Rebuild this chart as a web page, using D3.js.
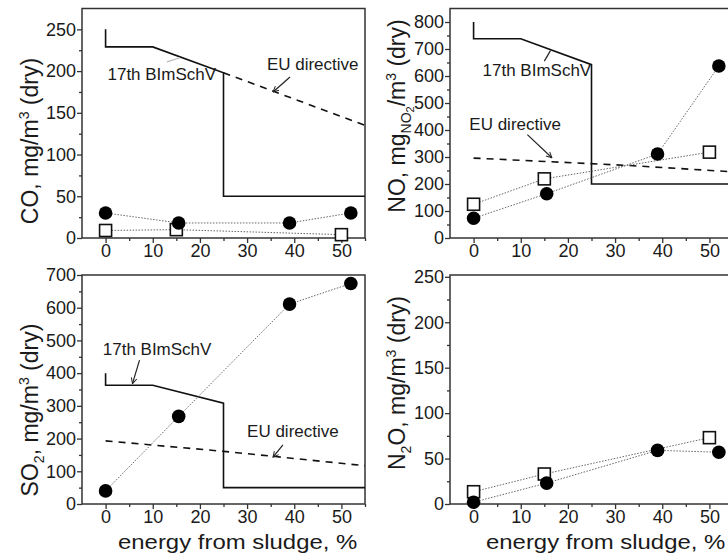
<!DOCTYPE html>
<html><head><meta charset="utf-8">
<script src="https://cdn.jsdelivr.net/npm/d3@7"></script>
<style>
html,body{margin:0;padding:0;background:#fff;}
svg{display:block;font-family:"Liberation Sans",Arial,sans-serif;}
</style></head>
<body><svg id="chart" width="728" height="559"></svg>
<script>
// ---------- data ----------
const xTicks = [0, 10, 20, 30, 40, 50];
const sludgeFilledX = [0, 15.5, 39, 52];
const sludgeOpenX = [0, 15, 50];

const coFilled = [30, 18, 18, 30];
const coOpen = [9, 10, 4];
const noFilled = [73, 164, 311, 637];
const noOpen = [125, 219, 318];
const so2Filled = [40, 268, 611, 674];
const n2oFilled = [2, 23, 59, 57];
const n2oOpen = [13.5, 33, 73];

const coTicks = [0, 50, 100, 150, 200, 250];
const noTicks = [0, 100, 200, 300, 400, 500, 600, 700, 800];
const so2Ticks = [0, 100, 200, 300, 400, 500, 600, 700];
const n2oTicks = [0, 50, 100, 150, 200, 250];

// limit lines (17th BImSchV solid, EU directive dashed)
const coLimit17 = [[0, 250], [0, 229], [10, 229], [25, 198], [25, 50], [55, 50]];
const coLimitEU = [[25, 198], [55, 135]];
const noLimit17 = [[0, 800], [0, 738], [10, 738], [25, 642], [25, 200], [55, 200]];
const noLimitEU = [[0, 296], [18, 281], [32.5, 269], [46.7, 254], [55, 245]];
const so2Limit17 = [[0, 400], [0, 363], [10, 363], [25, 308], [25, 50], [55, 50]];
const so2LimitEU = [[0, 193], [25, 161], [36, 145], [55, 117]];

// ---------- layout ----------
const W = 728, H = 559;
const svg = d3.select("#chart");
svg.append("rect").attr("width", W).attr("height", H).attr("fill", "#fff");

const defs = svg.append("defs");
defs.append("marker").attr("id", "arr").attr("viewBox", "0 0 10 10")
  .attr("refX", 9).attr("refY", 5).attr("markerWidth", 7).attr("markerHeight", 7)
  .attr("orient", "auto-start-reverse").attr("markerUnits", "userSpaceOnUse")
  .append("path").attr("d", "M1,1 L9,5 L1,9").attr("fill", "none").attr("stroke", "#222").attr("stroke-width", 1.4);

const panels = [
  {key: "CO", x0: 82, x1: 365, yTop: 8.5, yBot: 238, yMax: 275, ticks: coTicks, minorStep: 25,
   filled: coFilled, open: coOpen, lim17: coLimit17, limEU: coLimitEU,
   labelCenter: 141, labelX: 38, showXTitle: false,
   notes: [
     {text: "17th BImSchV", x: 0.4, y: 189},
     {text: "EU directive", x: 34.2, y: 201}
   ],
   arrows: [
     {from: [39.1, 193], to: [35.5, 175], color: "#222", head: true},
     {from: [13, 211], to: [15.8, 216], color: "#bbb", head: false}
   ]},
  {key: "NO", x0: 450, x1: 733, yTop: 8.5, yBot: 238, yMax: 850, ticks: noTicks, minorStep: 50,
   filled: noFilled, open: noOpen, lim17: noLimit17, limEU: noLimitEU,
   labelCenter: 116, labelX: 405, showXTitle: false,
   notes: [
     {text: "17th BImSchV", x: 1.9, y: 600},
     {text: "EU directive", x: -0.9, y: 401}
   ],
   arrows: [
     {from: [11.4, 383], to: [16.6, 297], color: "#222", head: true},
     {from: [15.0, 655], to: [16.3, 694], color: "#222", head: false}
   ]},
  {key: "SO2", x0: 82, x1: 365, yTop: 275, yBot: 504, yMax: 700, ticks: so2Ticks, minorStep: 50,
   filled: so2Filled, open: null, lim17: so2Limit17, limEU: so2LimitEU,
   labelCenter: 410, labelX: 38, showXTitle: true,
   notes: [
     {text: "17th BImSchV", x: -0.6, y: 455},
     {text: "EU directive", x: 30, y: 205}
   ],
   arrows: [
     {from: [7.2, 440], to: [5.7, 368], color: "#222", head: true},
     {from: [37.6, 181], to: [35.5, 143], color: "#222", head: true}
   ]},
  {key: "N2O", x0: 450, x1: 733, yTop: 275, yBot: 504, yMax: 252, ticks: n2oTicks, minorStep: 25,
   filled: n2oFilled, open: n2oOpen, lim17: null, limEU: null,
   labelCenter: 383, labelX: 405, showXTitle: true, notes: [], arrows: []}
];

const labelDefs = {
  CO: [["CO, mg/m", 0], ["3", "sup"], [" (dry)", 0]],
  NO: [["NO, mg", 0], ["NO", "sub"], ["2", "sub2"], ["/m", "back"], ["3", "sup"], [" (dry)", 0]],
  SO2: [["SO", 0], ["2", "sub"], [", mg/m", "back"], ["3", "sup"], [" (dry)", 0]],
  N2O: [["N", 0], ["2", "sub"], ["O, mg/m", "back"], ["3", "sup"], [" (dry)", 0]]
};

panels.forEach(p => {
  const x = d3.scaleLinear().domain([-5, 55]).range([p.x0, p.x1]);
  const y = d3.scaleLinear().domain([0, p.yMax]).range([p.yBot, p.yTop]);
  const g = svg.append("g");

  // frame
  g.append("rect").attr("x", p.x0).attr("y", p.yTop)
    .attr("width", p.x1 - p.x0).attr("height", p.yBot - p.yTop)
    .attr("fill", "none").attr("stroke", "#333").attr("stroke-width", 1.5);

  // minor ticks
  const yMinor = d3.range(p.minorStep, p.yMax, p.minorStep * 2);
  g.append("g").attr("transform", `translate(${p.x0},0)`)
    .call(d3.axisLeft(y).tickValues(yMinor).tickSize(3).tickFormat(""))
    .call(a => a.select(".domain").remove())
    .selectAll("line").attr("stroke", "#333").attr("stroke-width", 1.3);
  g.append("g").attr("transform", `translate(0,${p.yBot})`)
    .call(d3.axisBottom(x).tickValues([5, 15, 25, 35, 45, 55]).tickSize(3).tickFormat(""))
    .call(a => a.select(".domain").remove())
    .selectAll("line").attr("stroke", "#333").attr("stroke-width", 1.3);

  // major axes
  const ya = g.append("g").attr("transform", `translate(${p.x0},0)`)
    .call(d3.axisLeft(y).tickValues(p.ticks).tickSize(5).tickPadding(1).tickSizeOuter(0));
  ya.select(".domain").remove();
  ya.selectAll("line").attr("stroke", "#333").attr("stroke-width", 1.3);
  ya.selectAll("text").attr("font-size", 18).attr("fill", "#1a1a1a")
    .attr("font-family", "Liberation Sans, Arial, sans-serif");

  const xa = g.append("g").attr("transform", `translate(0,${p.yBot})`)
    .call(d3.axisBottom(x).tickValues(xTicks).tickSize(5).tickPadding(1).tickSizeOuter(0));
  xa.select(".domain").remove();
  xa.selectAll("line").attr("stroke", "#333").attr("stroke-width", 1.3);
  xa.selectAll("text").attr("font-size", 18).attr("fill", "#1a1a1a")
    .attr("font-family", "Liberation Sans, Arial, sans-serif");

  const line = d3.line().x(d => x(d[0])).y(d => y(d[1]));

  // limit lines
  if (p.lim17) g.append("path").attr("d", line(p.lim17)).attr("fill", "none")
    .attr("stroke", "#111").attr("stroke-width", 1.6);
  if (p.limEU) g.append("path").attr("d", line(p.limEU)).attr("fill", "none")
    .attr("stroke", "#111").attr("stroke-width", 1.6).attr("stroke-dasharray", "7,6");

  // annotations
  p.notes.forEach(n => {
    g.append("text").attr("x", x(n.x)).attr("y", y(n.y)).text(n.text)
      .attr("font-size", 17).attr("fill", "#1a1a1a");
  });
  p.arrows.forEach(a => {
    const l = g.append("line").attr("x1", x(a.from[0])).attr("y1", y(a.from[1]))
      .attr("x2", x(a.to[0])).attr("y2", y(a.to[1]))
      .attr("stroke", a.color).attr("stroke-width", 1.2);
    if (a.head) l.attr("marker-end", "url(#arr)");
  });

  // data series
  const filledPts = sludgeFilledX.map((v, i) => [v, p.filled[i]]);
  g.append("path").attr("d", line(filledPts)).attr("fill", "none")
    .attr("stroke", "#666").attr("stroke-width", 1).attr("stroke-dasharray", "1.5,1.5");
  if (p.open) {
    const openPts = sludgeOpenX.map((v, i) => [v, p.open[i]]);
    g.append("path").attr("d", line(openPts)).attr("fill", "none")
      .attr("stroke", "#666").attr("stroke-width", 1).attr("stroke-dasharray", "1.5,1.5");
    g.selectAll(null).data(openPts).enter().append("rect")
      .attr("x", d => x(d[0]) - 6).attr("y", d => y(d[1]) - 6)
      .attr("width", 12).attr("height", 12)
      .attr("fill", "#fff").attr("stroke", "#111").attr("stroke-width", 1.6);
  }
  g.selectAll(null).data(filledPts).enter().append("circle")
    .attr("cx", d => x(d[0])).attr("cy", d => y(d[1])).attr("r", 6.8).attr("fill", "#000");

  // y label
  const t = g.append("text")
    .attr("transform", `translate(${p.labelX},${p.labelCenter}) rotate(-90)`)
    .attr("text-anchor", "middle").attr("font-size", 23).attr("fill", "#1a1a1a");
  let shift = 0;
  labelDefs[p.key].forEach(([s, kind]) => {
    const ts = t.append("tspan").text(s);
    if (kind === "sup") { ts.attr("font-size", 14).attr("dy", -9 - shift); shift = -9; }
    else if (kind === "sub") { ts.attr("font-size", 14).attr("dy", 6 - shift); shift = 6; }
    else if (kind === "sub2") { ts.attr("font-size", 11).attr("dy", 3); shift += 3; }
    else if (kind === "back" || shift !== 0) { ts.attr("dy", -shift); shift = 0; }
  });

  if (p.showXTitle) {
    g.append("text")
      .attr("transform", `translate(${x(28)},${p.yBot + 45}) scale(1.14,1)`)
      .attr("text-anchor", "middle").attr("font-size", 21).attr("fill", "#1a1a1a")
      .text("energy from sludge, %");
  }
});
</script></body></html>
